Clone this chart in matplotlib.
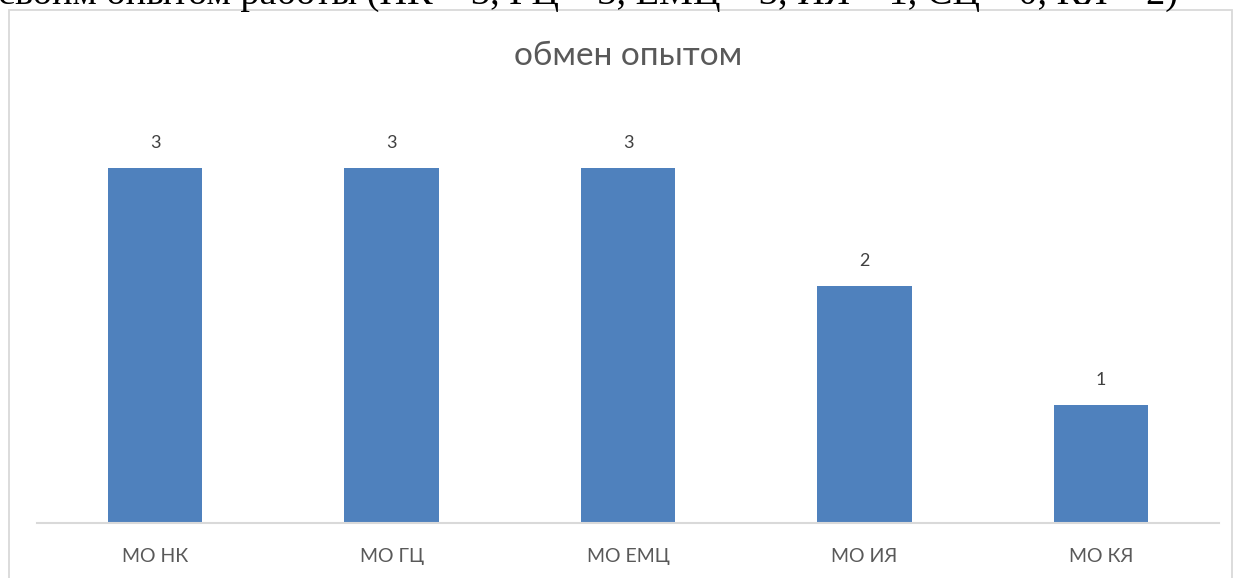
import matplotlib
matplotlib.use("Agg")
import matplotlib.pyplot as plt
from matplotlib.patches import Rectangle

categories = ["МО НК", "МО ГЦ", "МО ЕМЦ", "МО ИЯ", "МО КЯ"]
values = [3, 3, 3, 2, 1]
title = "обмен опытом"
doc_text = "своим опытом работы (НК – 3, ГЦ – 3, ЕМЦ – 3, ИЯ – 1, СЦ – 0, КЯ – 2)"

W, H = 1235, 578
fig = plt.figure(figsize=(W / 100, H / 100), dpi=100)

# document text above the chart (cut off at top)
fig.text(-0.002, 1 - 4 / H, doc_text, family="Liberation Serif", fontsize=27.5,
         color="black", ha="left", va="baseline")

# chart frame
fig.patches.append(Rectangle((9 / W, -0.01), (W - 9 - 3) / W, 1 - 10 / H + 0.01,
                             transform=fig.transFigure, fill=False,
                             edgecolor="#d9d9d9", linewidth=1.3))

left, right = 37 / W, 1219 / W
bottom = (H - 523) / H
ymax = 3.6
unit = 118.3
height = ymax * unit / H
ax = fig.add_axes([left, bottom, right - left, height])

x = list(range(len(categories)))
bars = ax.bar(x, values, width=0.4, color="#4f81bd", zorder=2)
ax.set_xlim(-0.5, len(categories) - 0.5)
ax.set_ylim(0, ymax)

for spine in ["top", "right", "left"]:
    ax.spines[spine].set_visible(False)
ax.spines["bottom"].set_color("#d9d9d9")
ax.spines["bottom"].set_linewidth(1.5)
ax.set_yticks([])
ax.set_xticks(x)
ax.set_xticklabels(categories, family="Lato", fontsize=14, color="#595959")
ax.tick_params(axis="x", length=0, pad=18)
ax.patch.set_alpha(0)

for xi, v in zip(x, values):
    ax.text(xi, v + 25 / unit, str(v), ha="center", va="center",
            family="Lato", fontsize=13, color="#404040")

fig.text(628 / W, 1 - 56 / H, title, ha="center", va="center",
         family="Lato", fontsize=24, color="#595959")

fig.savefig("out.png", dpi=100)
